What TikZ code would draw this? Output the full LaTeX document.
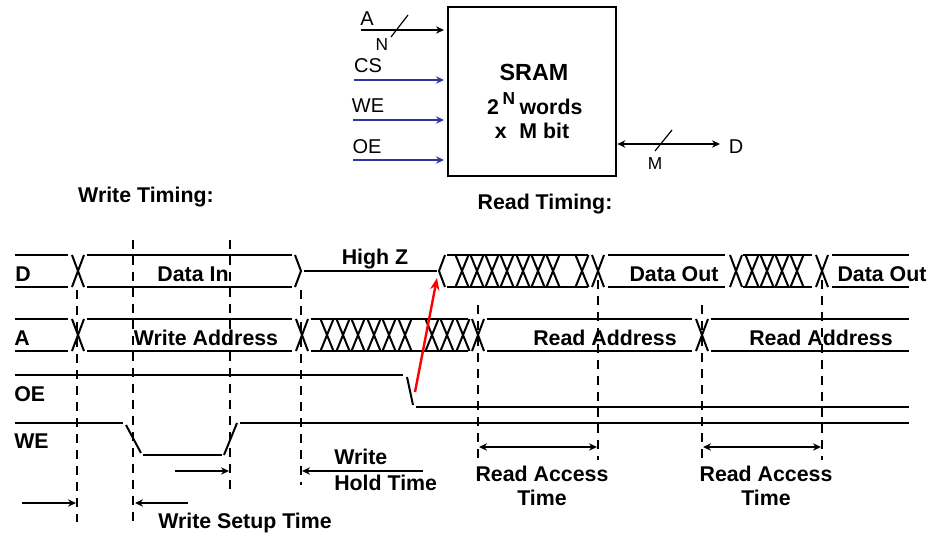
\documentclass[tikz,border=0pt]{standalone}
\usepackage{fontspec}
\setmainfont{Liberation Sans}
\usetikzlibrary{arrows.meta}
\definecolor{sigblue}{RGB}{51,51,160}
\tikzset{
  sig/.style={line width=1.8pt,black},
  edge/.style={line width=1.5pt,black},
  guide/.style={line width=1.7pt,black,dash pattern=on 7pt off 5pt},
  tick/.style={line width=0.9pt,black},
  tip/.style={-{Stealth[length=6pt,width=5.5pt]},line width=1.5pt,black},
  tipboth/.style={{Stealth[length=6pt,width=5.5pt]}-{Stealth[length=6pt,width=5.5pt]},line width=1.5pt,black},
  bluearrow/.style={-{Stealth[length=6pt,width=5.5pt]},line width=1.6pt,sigblue},
  redarrow/.style={-{Stealth[length=9pt,width=7pt]},line width=1.8pt,red},
  lab/.style={inner sep=0pt,anchor=base,font=\fontsize{16}{18}\selectfont\bfseries},
  labw/.style={lab,anchor=base west},
  plain/.style={inner sep=0pt,anchor=base,font=\fontsize{15}{18}\selectfont},
  small/.style={inner sep=0pt,anchor=base,font=\fontsize{13}{15}\selectfont},
  sram/.style={draw=black,line width=2pt,fill=white,minimum width=126pt,minimum height=126.75pt,inner sep=0pt},
}
\newcommand{\crossX}[4]{% centre x, half width, top y, bottom y
  \draw[edge] (#1-#2,#4) -- (#1+#2,#3) (#1-#2,#3) -- (#1+#2,#4);}
\begin{document}
\begin{tikzpicture}[x=0.75pt,y=-0.75pt]
\useasboundingbox[fill=white] (0,0) rectangle (931,535);

% SRAM block
\node[sram] (box) at (532,91.5) {};
\node[lab,font=\fontsize{17.5}{18}\selectfont\bfseries] (sramt) at (534,80) {SRAM};
\node[lab] (two) at (493,114) {2};
\node[small,font=\fontsize{13}{15}\selectfont\bfseries] (supn) at (509,104) {N};
\node[lab] (words) at (551,114) {words};
\node[lab] (xm) at (532,138) {x\hspace{0.6em}M bit};

\coordinate (aS) at (361,30);
\coordinate (csS) at (354,80);
\coordinate (weS) at (353,120);
\coordinate (oeS) at (353,160);
\coordinate (dS) at (720,144);
\draw[tip,shorten >=2pt] (aS) -- (aS -| box.west);
\draw[bluearrow,shorten >=2pt] (csS) -- (csS -| box.west);
\draw[bluearrow,shorten >=2pt] (weS) -- (weS -| box.west);
\draw[bluearrow,shorten >=2pt] (oeS) -- (oeS -| box.west);
\draw[tipboth] (dS -| box.east) -- (dS);
\draw[tick] (391,37) -- (408,15);
\draw[tick] (655,151) -- (672,130);
\node[plain] (la) at (367,26) {A};
\node[small] (ln) at (382,51) {N};
\node[plain] (lcs) at (368,73) {CS};
\node[plain] (lwe) at (368,113) {WE};
\node[plain] (loe) at (367,153) {OE};
\node[small] (lm) at (655,169) {M};
\node[plain] (ld) at (736,153) {D};
\node[lab] (wt) at (146,202) {Write Timing:};
\node[lab] (rt) at (545,209) {Read Timing:};

% D row
\foreach \a/\b in {15/68,87/292,447/588,608/725,743/812,832/909}
  {\draw[sig] (\a,255) -- (\b,255) (\a,287) -- (\b,287);}
\draw[edge] (295,255) -- (301,271) -- (295,287);
\draw[sig] (304,271) -- (437,271);
\draw[edge] (445,255) -- (439,271) -- (445,287);
\foreach \c in {78,598,736,822}
  {\crossX{\c}{6}{255}{287}}
\foreach \c in {462,477,492,507,523,538,553,582,752,767,782,797}
  {\crossX{\c}{6.5}{255}{287}}

% A row
\foreach \a/\b in {15/68,87/292,311/468,487/692,711/909}
  {\draw[sig] (\a,319) -- (\b,319) (\a,351) -- (\b,351);}
\foreach \c in {78,302,478,702}
  {\crossX{\c}{6}{319}{351}}
\foreach \c in {327,343,358,374,389,405,432,447,463}
  {\crossX{\c}{6.5}{319}{351}}

% OE row
\draw[sig] (15,375) -- (403,375);
\draw[edge] (407,377) -- (413,405);
\draw[sig] (416,407) -- (909,407);

% WE row
\draw[sig] (15,423) -- (123,423);
\draw[edge] (126,425) -- (141,453);
\draw[sig] (143,455) -- (222,455);
\draw[edge] (224,455) -- (237,423);
\draw[sig] (240,423) -- (909,423);

% Guides
\draw[guide] (77,290) -- (77,522);
\draw[guide] (133,240) -- (133,527);
\draw[guide] (230,240) -- (230,493);
\draw[guide] (301,290) -- (301,485);
\draw[guide] (478,305) -- (478,460);
\draw[guide] (598,280) -- (598,460);
\draw[guide] (702,305) -- (702,460);
\draw[guide] (822,280) -- (822,460);

% Timing arrows
\coordinate (h1) at (175,471); \coordinate (h1e) at (229,471);
\coordinate (h2) at (423,471); \coordinate (h2e) at (302,471);
\coordinate (s1) at (22,503);  \coordinate (s1e) at (76,503);
\coordinate (s2) at (188,503); \coordinate (s2e) at (135,503);
\coordinate (r1) at (479,447); \coordinate (r1e) at (597,447);
\coordinate (r2) at (703,447); \coordinate (r2e) at (821,447);
\draw[tip] (h1) -- (h1e);
\draw[tip] (h2) -- (h2e);
\draw[tip] (s1) -- (s1e);
\draw[tip] (s2) -- (s2e);
\draw[tipboth] (r1) -- (r1e);
\draw[tipboth] (r2) -- (r2e);

% Red causal arrow
\coordinate (rs) at (415,392); \coordinate (re) at (437,278);
\draw[redarrow] (rs) -- (re);

% Labels
\node[labw] (td) at (15,281) {D};
\node[labw] (ta) at (14,345) {A};
\node[labw] (toe) at (14,401) {OE};
\node[labw] (twe) at (14,448) {WE};
\node[lab] (datain) at (193,281) {Data In};
\node[lab] (waddr) at (206,345) {Write Address};
\node[lab] (hz) at (375,264) {High Z};
\node[lab] (do1) at (674,281) {Data Out};
\node[lab] (do2) at (882,281) {Data Out};
\node[lab] (ra1) at (605,345) {Read Address};
\node[lab] (ra2) at (821,345) {Read Address};
\node[labw] (wh1) at (334,464) {Write};
\node[labw] (wh2) at (334,490) {Hold Time};
\node[lab] (rat1) at (542,481) {Read Access};
\node[lab] (rat1b) at (542,505) {Time};
\node[lab] (rat2) at (766,481) {Read Access};
\node[lab] (rat2b) at (766,505) {Time};
\node[lab] (wst) at (245,528) {Write Setup Time};
\end{tikzpicture}
\end{document}
